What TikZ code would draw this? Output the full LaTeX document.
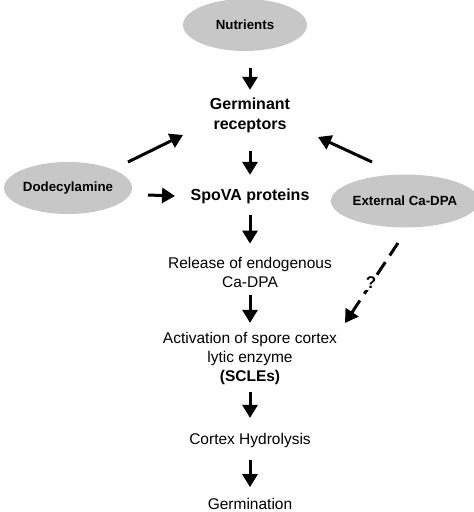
\documentclass[tikz,border=0pt]{standalone}
\usepackage{fontspec}
\setmainfont{Liberation Sans}
\usetikzlibrary{arrows.meta,shapes.geometric}

\begin{document}
\begin{tikzpicture}[x=1pt,y=-1pt,
    blob/.style={ellipse,fill=black!22,inner sep=0pt,
      font=\bfseries\fontsize{13.3}{15}\selectfont},
    lbl/.style={align=center,inner sep=3pt,font=\fontsize{15.5}{19}\selectfont},
    blbl/.style={lbl,font=\bfseries\fontsize{16}{20}\selectfont},
    flow/.style={-{Triangle[length=13pt,width=15pt]},line width=3pt},
    maybe/.style={flow,dash pattern=on 15pt off 8pt}]
  \useasboundingbox (0,0) rectangle (474,512);

  % signals
  \node[blob,minimum width=124pt,minimum height=52pt] (nut) at (245,25) {Nutrients};
  \node[blob,minimum width=128pt,minimum height=52pt] (dodec) at (68,188) {Dodecylamine};
  \node[blob,minimum width=135pt,minimum height=53pt] (ext) at (405,201) {External Ca-DPA};

  % pathway
  \node[blbl] (germ) at (250,115) {Germinant\\receptors};
  \node[blbl] (spova) at (250,196) {SpoVA proteins};
  \node[lbl] (rel) at (250,272) {Release of endogenous\\Ca-DPA};
  \node[lbl] (act) at (250,358) {Activation of spore cortex\\lytic enzyme\\\textbf{(SCLEs)}};
  \node[lbl] (cort) at (250,440) {Cortex Hydrolysis};
  \node[lbl] (germn) at (250,504) {Germination};

  % main chain
  \draw[flow,shorten <=17pt,shorten >=4.5pt] (nut.south -| germ.north) -- (germ.north);
  \draw[flow,shorten <=15.5pt,shorten >=10.5pt] (germ) -- (spova);
  \draw[flow,shorten <=8.5pt,shorten >=10pt] (spova) -- (rel);
  \draw[flow,shorten <=5pt,shorten >=5.7pt] (rel) -- (act);
  \draw[flow,shorten <=4.7pt,shorten >=11.7pt] (act) -- (cort);
  \draw[flow,shorten <=9.7pt,shorten >=8pt] (cort) -- (germn);

  % side inputs
  \draw[flow] ([shift={(60,-26)}]dodec.center) -- ([shift={(-67,20)}]germ.center);
  \draw[flow] ([shift={(80,7)}]dodec.center) -- ([shift={(-75,0)}]spova.center);
  \draw[flow] ([shift={(-33,-39)}]ext.center) -- ([shift={(68,22)}]germ.center);
  \draw[maybe] ([shift={(-7,42)}]ext.center) -- ([shift={(95,-35)}]act.center);
  \node[fill=white,inner sep=1pt,font=\bfseries\fontsize{17}{18}\selectfont] (q) at (371,283) {?};
\end{tikzpicture}
\end{document}
